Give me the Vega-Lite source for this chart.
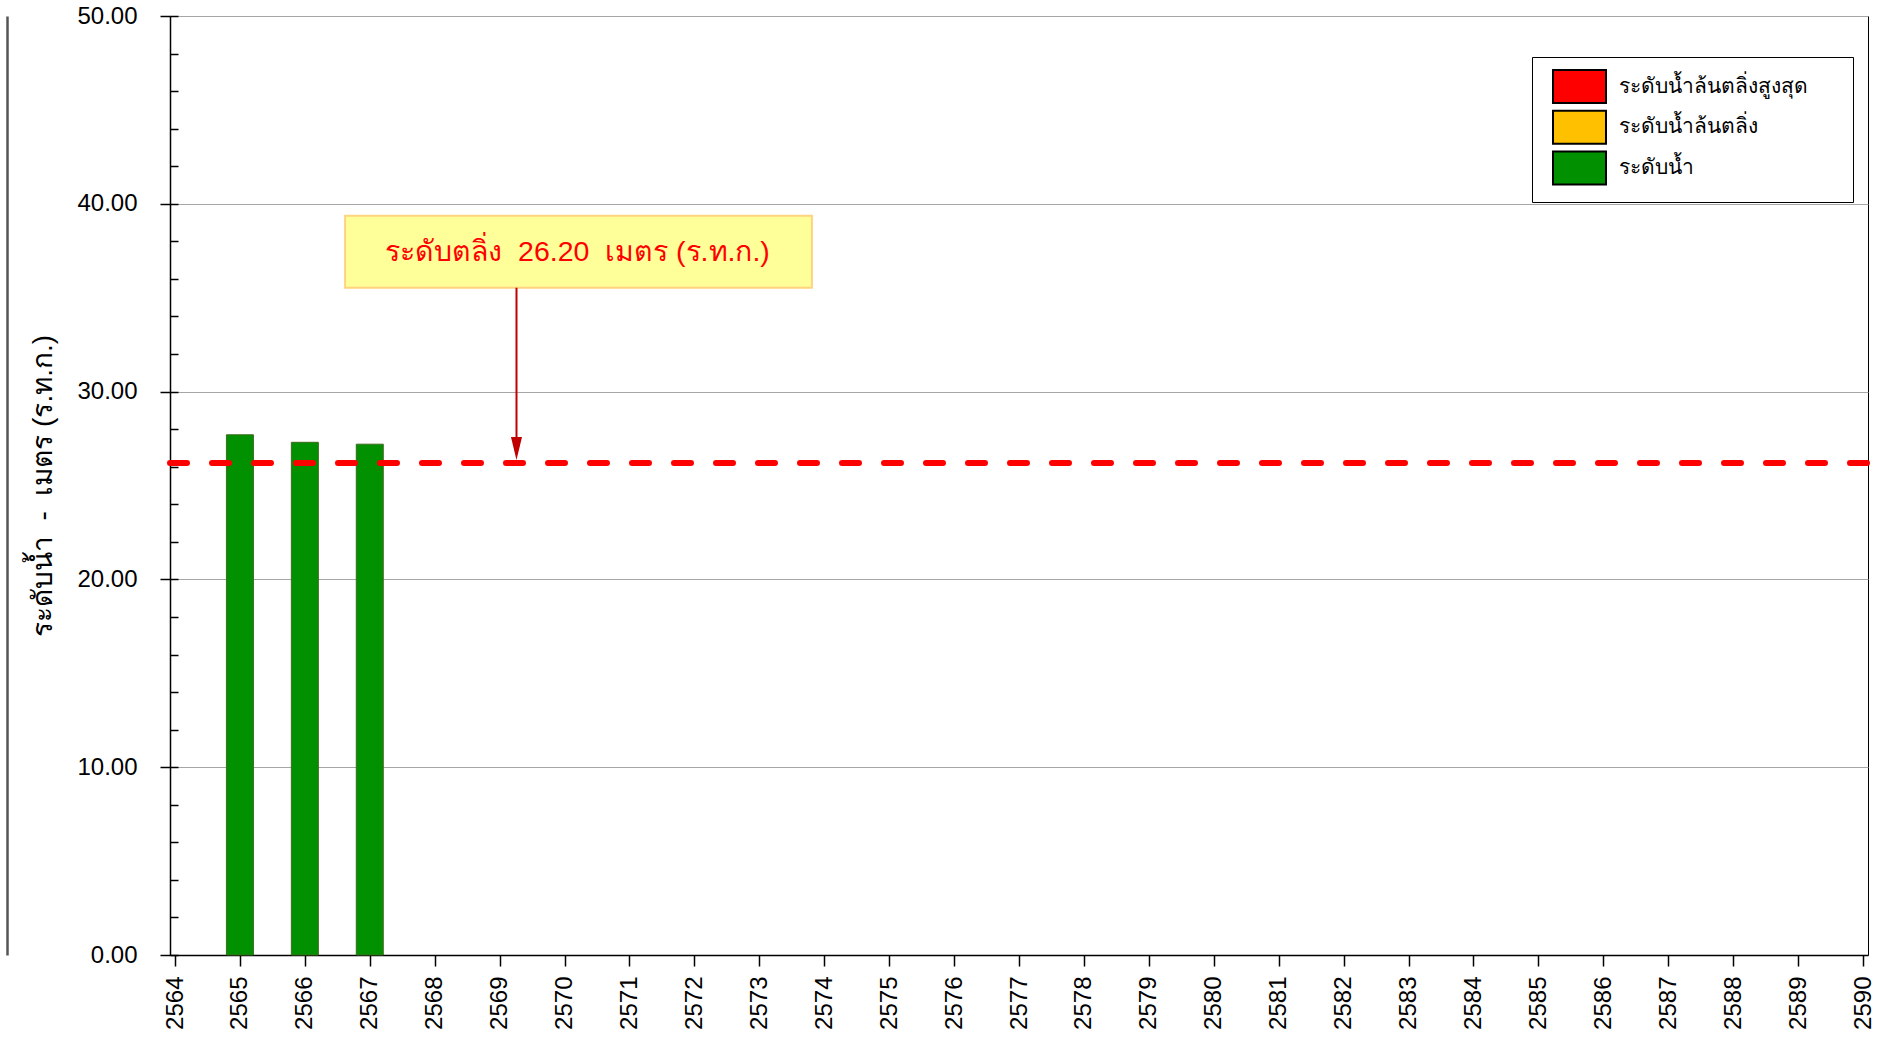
{
  "$schema": "https://vega.github.io/schema/vega-lite/v6.json",
  "width": 1698,
  "height": 939,
  "autosize": {"type": "none"},
  "padding": {"left": 170, "top": 16, "right": 16, "bottom": 83},
  "background": "white",
  "config": {
    "font": "Liberation Sans",
    "view": {"stroke": "black", "strokeWidth": 1},
    "axis": {"labelFont": "Liberation Sans", "titleFont": "Liberation Sans", "labelColor": "black", "titleColor": "black", "domainColor": "black", "tickColor": "black"},
    "legend": {"labelFont": "Liberation Sans", "titleFont": "Liberation Sans"}
  },
  "datasets": {
    "levels": [
      {"year": 2565, "level": 27.7, "series": "ระดับน้ำ"},
      {"year": 2566, "level": 27.3, "series": "ระดับน้ำ"},
      {"year": 2567, "level": 27.2, "series": "ระดับน้ำ"}
    ],
    "bank": [
      {"level": 26.2, "label": "ระดับตลิ่ง\u00a0\u00a026.20\u00a0\u00a0เมตร (ร.ท.ก.)"}
    ]
  },
  "layer": [
    {
      "data": {"name": "levels"},
      "mark": {"type": "bar", "width": 27, "stroke": "#3d6b1f", "strokeWidth": 1},
      "encoding": {
        "x": {
          "field": "year", "type": "quantitative",
          "scale": {"domain": [2564, 2590], "nice": false, "zero": false},
          "axis": {
            "values": [2564, 2565, 2566, 2567, 2568, 2569, 2570, 2571, 2572, 2573, 2574, 2575, 2576, 2577, 2578, 2579, 2580, 2581, 2582, 2583, 2584, 2585, 2586, 2587, 2588, 2589, 2590],
            "format": "d", "labelAngle": -90, "labelFontSize": 24, "labelPadding": 10,
            "tickSize": 11, "tickWidth": 1.5, "domainWidth": 1.5, "grid": false, "title": null,
            "labelOverlap": false, "labelFlush": false
          }
        },
        "y": {
          "field": "level", "type": "quantitative",
          "scale": {"domain": [0, 50], "nice": false},
          "axis": {
            "orient": "left",
            "values": [0, 10, 20, 30, 40, 50], "format": ".2f",
            "labelFontSize": 24, "labelPadding": 23, "tickSize": 10, "tickWidth": 1.5,
            "domainWidth": 1.5,
            "grid": true, "gridColor": "#a6a6a6", "gridWidth": 1,
            "title": "ระดับน้ำ\u00a0\u00a0-\u00a0\u00a0เมตร (ร.ท.ก.)",
            "titleFontSize": 28, "titleFontWeight": "normal", "titlePadding": 19
          }
        },
        "color": {
          "field": "series", "type": "nominal",
          "scale": {"domain": ["ระดับน้ำล้นตลิ่งสูงสุด", "ระดับน้ำล้นตลิ่ง", "ระดับน้ำ"], "range": ["#ff0000", "#ffc000", "#009000"]},
          "legend": {
            "title": "MM", "titleOrient": "right", "titleOpacity": 0, "titleFontSize": 14, "titlePadding": 7.7,
            "orient": "none", "legendX": 1362, "legendY": 41,
            "fillColor": "white", "strokeColor": "black", "padding": 12.5, "rowPadding": -1.2,
            "symbolType": "M-2.208,-1.042L2.208,-1.042L2.208,1.708L-2.208,1.708Z", "symbolSize": 576,
            "symbolOffset": 22,
            "symbolStrokeColor": "black", "symbolStrokeWidth": 2,
            "labelFontSize": 21, "labelColor": "black", "labelLimit": 400, "labelOffset": 26.5,
            "encode": {
              "symbols": {"update": {"stroke": {"value": "black"}, "strokeWidth": {"value": 2}}},
              "labels": {"update": {"dy": {"value": 4}}}
            }
          }
        }
      }
    },
    {
      "data": {"name": "bank"},
      "mark": {"type": "rule", "color": "#ff0000", "strokeWidth": 6, "strokeDash": [17, 25], "strokeCap": "round", "strokeDashOffset": -1},
      "encoding": {
        "y": {
          "field": "level", "type": "quantitative",
          "axis": {
            "orient": "left",
            "values": [0, 2, 4, 6, 8, 10, 12, 14, 16, 18, 20, 22, 24, 26, 28, 30, 32, 34, 36, 38, 40, 42, 44, 46, 48, 50],
            "tickSize": -8, "tickWidth": 1.5, "labels": false, "domain": false, "grid": false, "title": null
          }
        }
      }
    },
    {
      "data": {"name": "bank"},
      "mark": {"type": "rect", "fill": "#ffff99", "stroke": "#ffd37f", "strokeWidth": 2},
      "encoding": {
        "x": {"datum": 2566.62},
        "x2": {"datum": 2573.81},
        "y": {
          "datum": 39.37,
          "axis": {"orient": "left", "offset": 163, "domainColor": "#555555", "domainWidth": 2.5, "ticks": false, "labels": false, "grid": false, "title": null}
        },
        "y2": {"datum": 35.53}
      }
    },
    {
      "data": {"name": "bank"},
      "mark": {"type": "rule", "color": "#c00000", "strokeWidth": 2},
      "encoding": {
        "x": {"datum": 2569.26},
        "y": {"datum": 35.53, "axis": null},
        "y2": {"datum": 27.5}
      }
    },
    {
      "data": {"name": "bank"},
      "mark": {"type": "point", "shape": "M-0.48,-1L0.48,-1L0,1Z", "filled": true, "color": "#c00000", "opacity": 1, "size": 529},
      "encoding": {
        "x": {"datum": 2569.26},
        "y": {"datum": 26.97, "axis": null}
      }
    },
    {
      "data": {"name": "bank"},
      "mark": {"type": "text", "color": "#ff0000", "fontSize": 28.5, "align": "center", "baseline": "middle"},
      "encoding": {
        "x": {"datum": 2570.2},
        "y": {"datum": 37.45, "axis": null},
        "text": {"field": "label"}
      }
    }
  ],
  "resolve": {"axis": {"y": "independent"}}
}
